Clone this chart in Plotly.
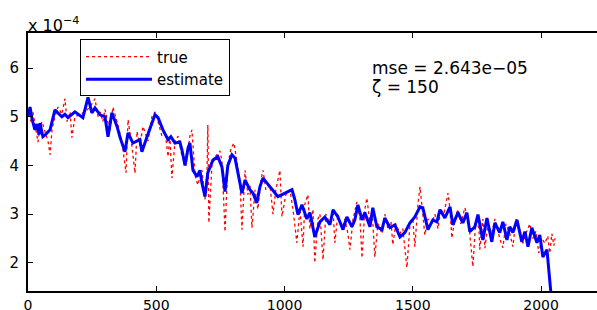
import plotly.graph_objects as go

# estimate (blue) : sample index and value (x 1e-4)
est_x = [0, 8, 16, 27, 35, 43, 47, 58, 66, 86, 105, 117, 132, 144, 156, 183, 214, 234, 249, 261,
         281, 300, 312, 327, 347, 359, 378, 390, 409, 436, 444, 464, 483, 495, 507, 526, 546, 557, 573, 592,
         600, 612, 624, 631, 643, 659, 670, 678, 690, 701, 721, 740, 756, 768, 779, 795, 807, 818, 834, 846,
         865, 877, 892, 904, 916, 931, 951, 974, 1002, 1029, 1040, 1052, 1068, 1087, 1099, 1111, 1118, 1138, 1157, 1177,
         1189, 1208, 1228, 1243, 1263, 1274, 1286, 1302, 1313, 1333, 1344, 1360, 1380, 1391, 1411, 1430, 1450, 1469, 1489, 1508,
         1528, 1539, 1559, 1578, 1594, 1606, 1625, 1645, 1656, 1676, 1695, 1711, 1722, 1742, 1754, 1773, 1789, 1808, 1820, 1839,
         1851, 1867, 1878, 1890, 1906, 1925, 1937, 1949, 1964, 1984, 1995, 2007, 2023, 2030, 2038]
est_y = [5.0, 5.2, 4.95, 4.73, 4.85, 4.63, 4.87, 4.59, 4.62, 4.73, 5.14, 5.08, 5.0, 5.05, 4.98, 5.1, 4.98, 5.4, 5.08, 5.18,
         5.04, 5.0, 4.59, 5.08, 4.8, 4.57, 4.28, 4.67, 4.46, 4.53, 4.28, 4.59, 4.87, 5.04, 4.98, 4.73, 4.53, 4.59, 4.46, 4.48,
         4.32, 4.0, 4.36, 4.46, 3.9, 3.77, 3.9, 3.64, 3.36, 3.85, 4.11, 4.18, 3.97, 3.46, 4.0, 4.22, 4.15, 3.85, 3.43, 3.7,
         3.5, 3.43, 3.23, 3.56, 3.74, 3.64, 3.5, 3.36, 3.43, 3.5, 3.3, 2.99, 3.19, 2.9, 3.03, 2.74, 2.53, 2.84, 2.94, 2.78,
         3.09, 2.94, 2.68, 2.94, 2.74, 2.88, 3.19, 2.88, 3.03, 2.74, 3.13, 2.74, 2.68, 2.92, 2.72, 2.78, 2.53, 2.62, 2.82, 2.94,
         3.15, 3.13, 2.68, 2.88, 2.84, 3.09, 2.92, 3.15, 2.78, 3.03, 2.82, 3.03, 2.64, 2.74, 2.99, 2.47, 2.92, 2.43, 2.82, 2.62,
         2.84, 2.47, 2.74, 2.62, 2.88, 2.43, 2.64, 2.33, 2.72, 2.41, 2.57, 2.12, 2.27, 1.86, 1.4]

# true (red dotted)
true_x = [0, 12, 19, 31, 39, 47, 55, 66, 78, 86, 94, 105, 117, 132, 144, 152, 164, 171, 183, 203,
          222, 242, 261, 273, 281, 292, 300, 320, 331, 347, 366, 382, 390, 405, 417, 425, 436, 448, 468, 483,
          495, 507, 522, 534, 546, 553, 561, 573, 585, 600, 616, 631, 639, 651, 662, 678, 690, 698, 701, 705,
          717, 733, 748, 756, 768, 779, 791, 803, 814, 826, 834, 846, 857, 865, 873, 885, 896, 908, 916, 927,
          943, 955, 966, 982, 990, 1005, 1021, 1033, 1048, 1060, 1072, 1079, 1091, 1099, 1111, 1118, 1130, 1138, 1150, 1161,
          1177, 1189, 1196, 1208, 1224, 1235, 1247, 1255, 1267, 1282, 1294, 1302, 1313, 1321, 1333, 1341, 1352, 1364, 1380, 1391,
          1403, 1415, 1422, 1434, 1450, 1461, 1477, 1489, 1500, 1508, 1520, 1528, 1535, 1547, 1559, 1574, 1586, 1598, 1609, 1621,
          1637, 1645, 1652, 1664, 1676, 1687, 1703, 1715, 1722, 1734, 1746, 1758, 1761, 1773, 1781, 1793, 1808, 1820, 1839, 1851,
          1863, 1878, 1890, 1902, 1917, 1929, 1941, 1956, 1968, 1980, 1991, 2003, 2015, 2026, 2034, 2042, 2050, 2054]
true_y = [5.05, 4.9, 5.1, 4.7, 4.48, 4.8, 4.9, 4.7, 4.5, 4.22, 4.75, 5.0, 5.2, 5.05, 5.37, 4.9, 5.1, 4.57, 5.0, 5.05,
          5.1, 5.2, 5.37, 5.0, 5.1, 4.9, 5.15, 4.7, 5.2, 4.9, 4.5, 3.85, 4.94, 4.4, 3.84, 4.7, 4.4, 4.8, 4.5, 5.0,
          5.1, 4.9, 4.6, 4.7, 4.18, 4.6, 3.74, 4.5, 4.6, 4.2, 4.0, 4.6, 4.73, 3.8, 3.6, 3.9, 3.3, 3.9, 4.83, 2.82,
          4.0, 4.2, 4.3, 4.1, 2.64, 4.0, 4.35, 4.46, 4.1, 3.7, 2.68, 3.9, 3.4, 3.6, 2.72, 3.5, 3.1, 3.7, 3.9, 3.5,
          3.6, 3.0, 3.5, 3.9, 2.95, 3.4, 3.5, 3.1, 2.41, 3.1, 2.33, 3.2, 3.4, 2.7, 3.1, 2.0, 2.9, 3.0, 2.06, 3.0,
          2.8, 3.1, 2.41, 3.0, 2.7, 2.9, 2.6, 2.27, 2.9, 3.25, 2.9, 2.1, 3.1, 3.33, 2.8, 3.1, 2.12, 2.8, 2.6, 3.0,
          2.7, 2.85, 2.37, 2.8, 2.6, 2.7, 1.9, 2.8, 2.9, 2.33, 3.2, 3.56, 3.2, 2.57, 2.9, 2.8, 3.0, 2.7, 3.1, 3.0,
          3.43, 3.1, 2.51, 2.9, 3.1, 2.8, 3.13, 2.9, 2.6, 1.92, 2.9, 2.7, 2.27, 2.9, 2.3, 2.8, 2.6, 2.9, 2.5, 2.31,
          2.8, 2.6, 2.33, 2.9, 2.7, 2.4, 2.6, 2.8, 2.5, 2.65, 2.2, 2.5, 2.4, 2.55, 2.2, 2.6, 2.35, 2.5]

x_ticks = [0, 500, 1000, 1500, 2000]
y_ticks = [2, 3, 4, 5, 6]
stats_text = ["mse = 2.643e\u221205", "\u03b6 = 150"]

FONT = "DejaVu Sans, Verdana, sans-serif"

fig = go.Figure()
fig.add_trace(go.Scatter(x=true_x, y=true_y, mode="lines", name="true",
                         line=dict(color="rgb(255,0,0)", width=1.3, dash="dot")))
fig.add_trace(go.Scatter(x=est_x, y=est_y, mode="lines", name="estimate",
                         line=dict(color="rgb(0,0,255)", width=3)))

fig.update_layout(
    width=597, height=310,
    margin=dict(l=28, r=0, t=33, b=19),
    paper_bgcolor="white", plot_bgcolor="white",
    font=dict(family=FONT, size=15, color="black"),
    showlegend=True,
    legend=dict(x=0.0914, y=0.975, xanchor="left", yanchor="top",
                bordercolor="black", borderwidth=1, bgcolor="white",
                font=dict(size=15), tracegroupgap=0, itemwidth=66,
                valign="middle"),
    xaxis=dict(range=[0, 2218], tickvals=x_ticks, ticks="inside", ticklen=5,
               tickcolor="black", showline=True, linecolor="black", linewidth=2,
               mirror="ticks", showgrid=False, zeroline=False, automargin=False,
               tickfont=dict(size=14)),
    yaxis=dict(range=[1.42, 6.72], tickvals=y_ticks, ticks="inside", ticklen=5,
               tickcolor="black", showline=True, linecolor="black", linewidth=2,
               showgrid=False, zeroline=False, automargin=False,
               ticklabelstandoff=4, tickfont=dict(size=15)),
)

fig.add_annotation(text="x 10<sup>\u22124</sup>", xref="paper", yref="paper",
                   x=0, y=1, xanchor="left", yanchor="bottom", showarrow=False,
                   font=dict(size=16), xshift=-2, yshift=-4)
fig.add_annotation(text=stats_text[0], xref="x", yref="y", x=1333, y=6.0,
                   xanchor="left", yanchor="middle", showarrow=False, font=dict(size=17))
fig.add_annotation(text=stats_text[1], xref="x", yref="y", x=1333, y=5.61,
                   xanchor="left", yanchor="middle", showarrow=False, font=dict(size=17))

fig.write_html("out.html", config={"displayModeBar": False},
               post_script="document.body.style.margin='0';document.body.style.overflow='hidden';")
